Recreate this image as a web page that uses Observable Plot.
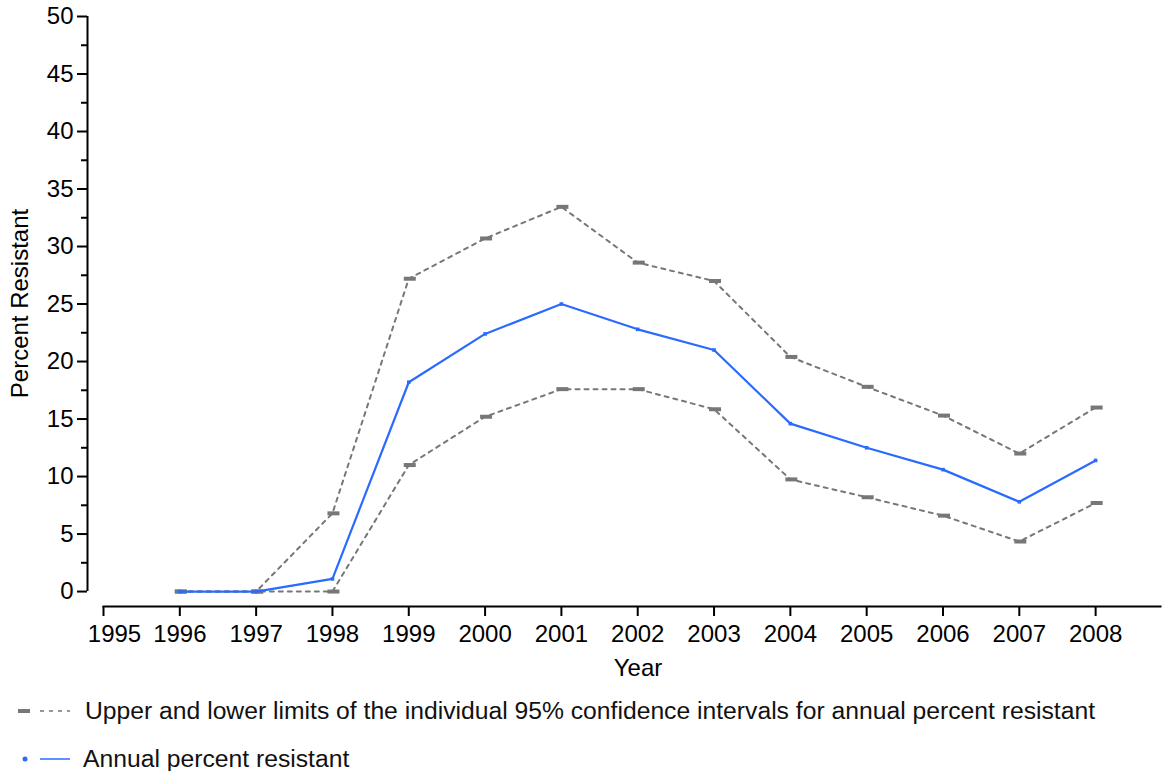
<!DOCTYPE html>
<html>
<head>
<meta charset="utf-8">
<script src="https://cdn.jsdelivr.net/npm/d3@7"></script>
<script src="https://cdn.jsdelivr.net/npm/@observablehq/plot@0.6"></script>
<style>
  body { margin: 0; background: white; font-family: "Liberation Sans", Arial, sans-serif; }
  #legend { font-size: 24.7px; color: #111; }
  .row { display: flex; align-items: center; height: 48px; }
  .row svg { flex: none; }
</style>
</head>
<body>
<div id="chart"></div>
<div id="legend"></div>
<script>
const years = [1996, 1997, 1998, 1999, 2000, 2001, 2002, 2003, 2004, 2005, 2006, 2007, 2008];
const annual = [0, 0, 1.1, 18.2, 22.4, 25.0, 22.8, 21.0, 14.6, 12.5, 10.6, 7.8, 11.4];
const upper = [0, 0, 6.8, 27.2, 30.7, 33.45, 28.6, 27.0, 20.4, 17.8, 15.3, 12.0, 16.0];
const lower = [0, 0, 0, 11.0, 15.2, 17.6, 17.6, 15.85, 9.75, 8.2, 6.6, 4.35, 7.7];
const xTicks = [1995, 1996, 1997, 1998, 1999, 2000, 2001, 2002, 2003, 2004, 2005, 2006, 2007, 2008];
const yMajor = [0, 5, 10, 15, 20, 25, 30, 35, 40, 45, 50];
const yMinor = [2.5, 7.5, 12.5, 17.5, 22.5, 27.5, 32.5, 37.5, 42.5, 47.5];
const legendLabels = ["Upper and lower limits of the individual 95% confidence intervals for annual percent resistant", "Annual percent resistant"];

const BLUE = "#2a6bff";
const GRAY = "#777777";

const ann = years.map((y, i) => ({year: y, value: annual[i]}));
const up = years.map((y, i) => ({year: y, value: upper[i]}));
const lo = years.map((y, i) => ({year: y, value: lower[i]}));

const barSymbol = {draw(ctx) { ctx.rect(-5, -2, 12, 4); }};
const sqSymbol = {draw(ctx) { ctx.rect(-1.8, -1.8, 3.6, 3.6); }};

const chart = Plot.plot({
  width: 1162,
  height: 690,
  marginLeft: 103,
  marginRight: 2,
  marginTop: 16,
  marginBottom: 84,
  x: {domain: [1995, 2008.85]},
  y: {domain: [-1.3, 50]},
  style: {fontFamily: "'Liberation Sans', Arial, sans-serif", fontSize: "24px", color: "#000", background: "white"},
  marks: [
    Plot.frame({anchor: "bottom", strokeWidth: 2, stroke: "#000"}),
    Plot.axisX(xTicks, {tickSize: 10, text: null, label: null, strokeWidth: 2}),
    Plot.axisX(xTicks.slice(1), {tickFormat: d => String(d), tickSize: 0, tickPadding: 18, label: null, fontSize: 24}),
    Plot.axisX(xTicks.slice(0, 1), {tickFormat: d => String(d), tickSize: 0, tickPadding: 18, dx: 11, label: null, fontSize: 24}),
    Plot.axisY(yMajor, {tickSize: 10, tickPadding: 4, dx: -16, label: null, strokeWidth: 2, fontSize: 24}),
    Plot.axisY(yMinor, {tickSize: 6, text: null, dx: -16, label: null, strokeWidth: 2}),
    Plot.ruleX([1995], {y1: 0, y2: 50, dx: -16, strokeWidth: 2, stroke: "#000"}),
    Plot.text(["Year"], {frameAnchor: "bottom", dy: 69, dx: 6, fontSize: 24}),
    Plot.text(["Percent Resistant"], {frameAnchor: "left", textAnchor: "middle", dx: -83, dy: -8, rotate: -90, fontSize: 24}),
    Plot.line(up, {x: "year", y: "value", stroke: GRAY, strokeWidth: 2, strokeDasharray: "4,5"}),
    Plot.line(lo, {x: "year", y: "value", stroke: GRAY, strokeWidth: 2, strokeDasharray: "4,5"}),
    Plot.dot(up, {x: "year", y: "value", symbol: barSymbol, fill: GRAY, stroke: "none"}),
    Plot.dot(lo, {x: "year", y: "value", symbol: barSymbol, fill: GRAY, stroke: "none"}),
    Plot.line(ann, {x: "year", y: "value", stroke: BLUE, strokeWidth: 2.2}),
    Plot.dot(ann, {x: "year", y: "value", symbol: sqSymbol, fill: BLUE, stroke: "none"})
  ]
});
document.getElementById("chart").appendChild(chart);

const legend = document.getElementById("legend");
legend.innerHTML = `
  <div class="row" style="margin-top:-3px">
    <svg width="85" height="20"><rect x="18" y="8" width="12" height="4" fill="${GRAY}"/>
      <line x1="40" x2="70" y1="10" y2="10" stroke="${GRAY}" stroke-width="1.5" stroke-dasharray="4,5"/></svg>
    <span>${legendLabels[0]}</span>
  </div>
  <div class="row">
    <svg width="83" height="20"><circle cx="25" cy="10" r="2.5" fill="${BLUE}"/>
      <line x1="40" x2="70" y1="10" y2="10" stroke="${BLUE}" stroke-width="1.5"/></svg>
    <span>${legendLabels[1]}</span>
  </div>`;
</script>
</body>
</html>
